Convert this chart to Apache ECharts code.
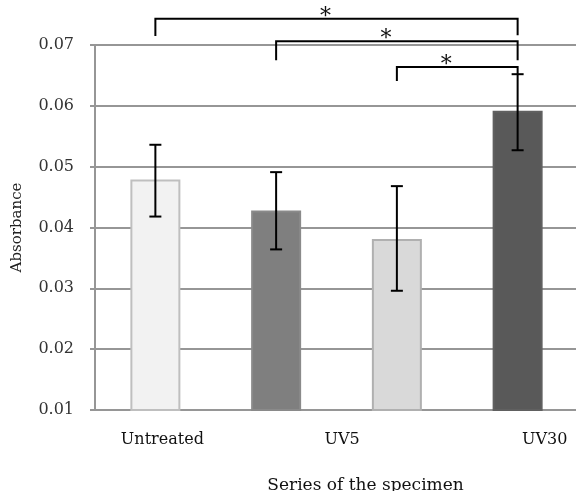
<!DOCTYPE html>
<html>
<head>
<meta charset="utf-8">
<script src="https://cdn.jsdelivr.net/npm/echarts@6/dist/echarts.min.js"></script>
<style>
  html, body { margin: 0; padding: 0; background: #fff; }
  #chart { width: 576px; height: 491px; }
</style>
</head>
<body>
<div id="chart"></div>
<script>
// categories along x (third one carries no label in the original)
const categories = ["Untreated", "UV5", "", "UV30"];
const absorbance = [0.0479, 0.0428, 0.0381, 0.0592];
const errLow = [0.0418, 0.0364, 0.0296, 0.0527];
const errHigh = [0.0536, 0.0491, 0.0468, 0.0652];
const yTicks = [0.01, 0.02, 0.03, 0.04, 0.05, 0.06, 0.07];

// significance brackets: from category -> to category, bar height, left drop, right drop
const bracketFrom = [0, 1, 2];
const bracketTo = [3, 3, 3];
const bracketTop = [0.0743, 0.0706, 0.0664];
const bracketLeftEnd = [0.0715, 0.0675, 0.0641];
const bracketRightEnd = [0.0716, 0.0675, 0.0652];

const fills = ["#f2f2f2", "#7f7f7f", "#d9d9d9", "#595959"];
const borders = ["#bfbfbf", "#8a8a8a", "#b0b0b0", "#606060"];
// shift of each tick label from its category centre (px)
const labelShift = [7, 66, 0, 27];

const FONT = "DejaVu Serif";
const chart = echarts.init(document.getElementById("chart"));

const rich = {};
labelShift.forEach((s, i) => {
  rich["l" + i] = {
    fontFamily: FONT,
    fontSize: 16,
    color: "#111",
    padding: [0, 0, 0, s * 2],
  };
});

chart.setOption({
  animation: false,
  grid: { left: 95, top: 45, width: 483, height: 365, outerBoundsMode: "none", containLabel: false },
  xAxis: {
    type: "category",
    data: categories,
    name: "Series of the specimen",
    nameLocation: "middle",
    nameGap: 67,
    nameTextStyle: {
      fontFamily: FONT,
      fontSize: 17,
      color: "#111",
      padding: [0, 0, 0, 58],
    },
    axisLine: { show: true, lineStyle: { color: "#969696", width: 2 } },
    axisTick: { show: false },
    axisLabel: {
      interval: 0,
      hideOverlap: false,
      margin: 22,
      formatter: (v, i) => (v ? "{l" + i + "|" + v + "}" : ""),
      rich: rich,
    },
  },
  yAxis: {
    type: "value",
    min: yTicks[0],
    max: yTicks[yTicks.length - 1],
    interval: 0.01,
    name: "Absorbance",
    nameLocation: "middle",
    nameGap: 70,
    nameTextStyle: { fontFamily: FONT, fontSize: 15, color: "#222" },
    axisLine: { show: true, lineStyle: { color: "#969696", width: 2 } },
    axisTick: { show: true, inside: false, length: 5, lineStyle: { color: "#969696", width: 2 } },
    axisLabel: {
      margin: 21,
      fontFamily: FONT,
      fontSize: 16,
      color: "#333",
      formatter: (v) => v.toFixed(2),
    },
    splitLine: { show: true, lineStyle: { color: "#969696", width: 2 } },
  },
  series: [
    {
      type: "bar",
      barWidth: 50,
      data: absorbance.map((v, i) => ({
        value: v,
        itemStyle: { color: fills[i], borderColor: borders[i], borderWidth: 2 },
      })),
    },
    {
      type: "custom",
      clip: false,
      z: 5,
      data: categories.map((c, i) => [i, errLow[i], errHigh[i]]),
      renderItem: (params, api) => {
        const lo = api.coord([api.value(0), api.value(1)]);
        const hi = api.coord([api.value(0), api.value(2)]);
        const cap = 6;
        const style = { stroke: "#000", lineWidth: 2, fill: null };
        return {
          type: "group",
          children: [
            { type: "line", shape: { x1: lo[0], y1: lo[1], x2: hi[0], y2: hi[1] }, style: style },
            { type: "line", shape: { x1: lo[0] - cap, y1: lo[1], x2: lo[0] + cap, y2: lo[1] }, style: style },
            { type: "line", shape: { x1: hi[0] - cap, y1: hi[1], x2: hi[0] + cap, y2: hi[1] }, style: style },
          ],
        };
      },
    },
    {
      type: "custom",
      clip: false,
      z: 6,
      data: bracketFrom.map((f, i) => [f, bracketTo[i], bracketTop[i], bracketLeftEnd[i], bracketRightEnd[i]]),
      renderItem: (params, api) => {
        const a = api.coord([api.value(0), api.value(2)]);
        const b = api.coord([api.value(1), api.value(2)]);
        const aEnd = api.coord([api.value(0), api.value(3)]);
        const bEnd = api.coord([api.value(1), api.value(4)]);
        const mid = (a[0] + b[0]) / 2 - 11;
        return {
          type: "group",
          children: [
            {
              type: "polyline",
              shape: { points: [[aEnd[0], aEnd[1]], [a[0], a[1]], [b[0], b[1]], [bEnd[0], bEnd[1]]] },
              style: { stroke: "#000", lineWidth: 2, fill: null },
            },
            {
              type: "text",
              x: mid,
              y: a[1] - 2,
              style: {
                text: "*",
                font: "22px " + FONT,
                fill: "#111",
                align: "center",
                verticalAlign: "middle",
              },
            },
          ],
        };
      },
    },
  ],
});
</script>
</body>
</html>
